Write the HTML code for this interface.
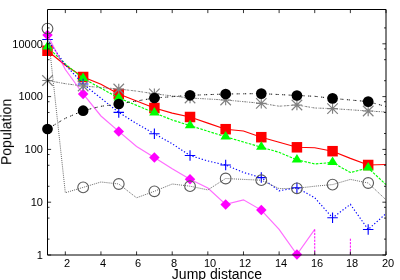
<!DOCTYPE html>
<html><head><meta charset="utf-8"><title>chart</title>
<style>
html,body{margin:0;padding:0;background:#fff;}
div{will-change:transform;}
body{width:400px;height:280px;position:relative;overflow:hidden;font-family:"Liberation Sans",sans-serif;color:#000;}
.xl{position:absolute;top:256.8px;width:30px;text-align:center;font-size:11px;line-height:12px;}
.yl{position:absolute;left:0;width:42.9px;text-align:right;font-size:11px;line-height:12px;}
.xt{position:absolute;left:116.5px;width:200px;text-align:center;top:266.1px;font-size:14px;line-height:16px;white-space:nowrap;}
.yt{position:absolute;left:0;top:0;font-size:14px;line-height:16px;white-space:nowrap;transform-origin:0 0;transform:translate(-1.75px,165px) rotate(-90deg);}
</style></head><body>
<svg width="400" height="280" viewBox="0 0 400 280" style="position:absolute;left:0;top:0">
<path d="M47.50,50.75 L65.32,65.30 L83.13,77.00 L100.95,84.30 L118.76,94.00 L136.58,101.00 L154.39,108.00 L172.21,113.10 L190.03,117.00 L207.84,123.10 L225.66,129.20 L243.47,131.00 L261.29,137.20 L279.11,142.25 L296.92,147.30 L314.74,147.80 L332.55,151.20 L350.37,158.40 L368.18,165.00 L386.00,164.50" fill="none" stroke="#ff0000" stroke-width="1.15"/>
<rect x="42.25" y="45.50" width="10.50" height="10.50" fill="#ff0000"/>
<rect x="77.88" y="71.75" width="10.50" height="10.50" fill="#ff0000"/>
<rect x="113.51" y="88.75" width="10.50" height="10.50" fill="#ff0000"/>
<rect x="149.14" y="102.75" width="10.50" height="10.50" fill="#ff0000"/>
<rect x="184.78" y="111.75" width="10.50" height="10.50" fill="#ff0000"/>
<rect x="220.41" y="123.95" width="10.50" height="10.50" fill="#ff0000"/>
<rect x="256.04" y="131.95" width="10.50" height="10.50" fill="#ff0000"/>
<rect x="291.67" y="142.05" width="10.50" height="10.50" fill="#ff0000"/>
<rect x="327.30" y="145.95" width="10.50" height="10.50" fill="#ff0000"/>
<rect x="362.93" y="159.75" width="10.50" height="10.50" fill="#ff0000"/>

<path d="M47.50,46.90 L65.32,64.00 L83.13,78.40 L100.95,88.20 L118.76,98.00 L136.58,105.40 L154.39,112.80 L172.21,120.00 L190.03,125.60 L207.84,131.20 L225.66,136.80 L243.47,142.00 L261.29,147.20 L279.11,152.30 L296.92,159.80 L314.74,163.90 L332.55,162.50 L350.37,172.50 L368.18,168.00 L386.00,184.60" fill="none" stroke="#00ff00" stroke-width="1.15" stroke-dasharray="2.6 1.3"/>
<path d="M47.50,41.02 L42.25,49.52 L52.75,49.52 Z" fill="#00ff00"/>
<path d="M83.13,72.52 L77.88,81.03 L88.38,81.03 Z" fill="#00ff00"/>
<path d="M118.76,92.12 L113.51,100.62 L124.01,100.62 Z" fill="#00ff00"/>
<path d="M154.39,106.92 L149.14,115.42 L159.64,115.42 Z" fill="#00ff00"/>
<path d="M190.03,119.72 L184.78,128.22 L195.28,128.22 Z" fill="#00ff00"/>
<path d="M225.66,130.92 L220.41,139.43 L230.91,139.43 Z" fill="#00ff00"/>
<path d="M261.29,141.32 L256.04,149.82 L266.54,149.82 Z" fill="#00ff00"/>
<path d="M296.92,153.92 L291.67,162.43 L302.17,162.43 Z" fill="#00ff00"/>
<path d="M332.55,156.62 L327.30,165.12 L337.80,165.12 Z" fill="#00ff00"/>
<path d="M368.18,162.12 L362.93,170.62 L373.43,170.62 Z" fill="#00ff00"/>

<path d="M47.50,39.50 L65.32,64.80 L83.13,84.00 L100.95,98.20 L118.76,112.40 L136.58,123.60 L154.39,133.70 L172.21,143.80 L190.03,155.50 L207.84,161.00 L225.66,165.00 L243.47,172.50 L261.29,177.60 L279.11,190.80 L296.92,187.70 L314.74,197.80 L332.55,217.80 L350.37,204.40 L368.18,229.45 L386.00,213.60" fill="none" stroke="#0000ff" stroke-width="1.15" stroke-dasharray="1.3 1.95"/>
<path d="M42.25,39.50 H52.75 M47.50,34.25 V44.75" stroke="#0000ff" stroke-width="1.1" fill="none"/>
<path d="M77.88,84.00 H88.38 M83.13,78.75 V89.25" stroke="#0000ff" stroke-width="1.1" fill="none"/>
<path d="M113.51,112.40 H124.01 M118.76,107.15 V117.65" stroke="#0000ff" stroke-width="1.1" fill="none"/>
<path d="M149.14,133.70 H159.64 M154.39,128.45 V138.95" stroke="#0000ff" stroke-width="1.1" fill="none"/>
<path d="M184.78,155.50 H195.28 M190.03,150.25 V160.75" stroke="#0000ff" stroke-width="1.1" fill="none"/>
<path d="M220.41,165.00 H230.91 M225.66,159.75 V170.25" stroke="#0000ff" stroke-width="1.1" fill="none"/>
<path d="M256.04,177.60 H266.54 M261.29,172.35 V182.85" stroke="#0000ff" stroke-width="1.1" fill="none"/>
<path d="M291.67,187.70 H302.17 M296.92,182.45 V192.95" stroke="#0000ff" stroke-width="1.1" fill="none"/>
<path d="M327.30,217.80 H337.80 M332.55,212.55 V223.05" stroke="#0000ff" stroke-width="1.1" fill="none"/>
<path d="M362.93,229.45 H373.43 M368.18,224.20 V234.70" stroke="#0000ff" stroke-width="1.1" fill="none"/>

<path d="M47.50,35.00 L65.32,69.50 L83.13,94.00 L100.95,116.00 L118.76,131.40 L136.58,146.40 L154.39,157.50 L172.21,168.75 L190.03,179.25 L207.84,188.00 L225.66,204.40 L243.47,199.80 L261.29,210.10 L279.11,229.45 L296.92,254.50 L314.74,229.45" fill="none" stroke="#ff00ff" stroke-width="1.2" stroke-opacity="0.58"/>
<path d="M314.74,229.45 V255.0 M350.37,238.7 V255.0" stroke="#ff00ff" stroke-width="1" stroke-dasharray="2.2 1.2" fill="none"/>
<path d="M47.50,29.75 L52.75,35.00 L47.50,40.25 L42.25,35.00 Z" fill="#ff00ff"/>
<path d="M83.13,88.75 L88.38,94.00 L83.13,99.25 L77.88,94.00 Z" fill="#ff00ff"/>
<path d="M118.76,126.15 L124.01,131.40 L118.76,136.65 L113.51,131.40 Z" fill="#ff00ff"/>
<path d="M154.39,152.25 L159.64,157.50 L154.39,162.75 L149.14,157.50 Z" fill="#ff00ff"/>
<path d="M190.03,174.00 L195.28,179.25 L190.03,184.50 L184.78,179.25 Z" fill="#ff00ff"/>
<path d="M225.66,199.15 L230.91,204.40 L225.66,209.65 L220.41,204.40 Z" fill="#ff00ff"/>
<path d="M261.29,204.85 L266.54,210.10 L261.29,215.35 L256.04,210.10 Z" fill="#ff00ff"/>
<path d="M296.92,249.25 L302.17,254.50 L296.92,259.75 L291.67,254.50 Z" fill="#ff00ff"/>

<path d="M47.50,80.50 L65.32,83.70 L83.13,86.00 L100.95,87.50 L118.76,89.00 L136.58,91.10 L154.39,93.80 L172.21,95.90 L190.03,98.00 L207.84,99.00 L225.66,100.00 L243.47,101.65 L261.29,103.30 L279.11,106.20 L296.92,105.00 L314.74,108.00 L332.55,108.60 L350.37,109.80 L368.18,111.00 L386.00,112.00" fill="none" stroke="#555555" stroke-width="1.0" stroke-dasharray="0.8 0.7 0.8 0.7 0.8 0.7 0.8 1.7"/>
<path d="M42.25,80.50 H52.75 M47.50,75.25 V85.75 M42.25,75.25 L52.75,85.75 M42.25,85.75 L52.75,75.25" stroke="#808080" stroke-width="1.15" fill="none"/>
<path d="M77.88,86.00 H88.38 M83.13,80.75 V91.25 M77.88,80.75 L88.38,91.25 M77.88,91.25 L88.38,80.75" stroke="#808080" stroke-width="1.15" fill="none"/>
<path d="M113.51,89.00 H124.01 M118.76,83.75 V94.25 M113.51,83.75 L124.01,94.25 M113.51,94.25 L124.01,83.75" stroke="#808080" stroke-width="1.15" fill="none"/>
<path d="M149.14,93.80 H159.64 M154.39,88.55 V99.05 M149.14,88.55 L159.64,99.05 M149.14,99.05 L159.64,88.55" stroke="#808080" stroke-width="1.15" fill="none"/>
<path d="M184.78,98.00 H195.28 M190.03,92.75 V103.25 M184.78,92.75 L195.28,103.25 M184.78,103.25 L195.28,92.75" stroke="#808080" stroke-width="1.15" fill="none"/>
<path d="M220.41,100.00 H230.91 M225.66,94.75 V105.25 M220.41,94.75 L230.91,105.25 M220.41,105.25 L230.91,94.75" stroke="#808080" stroke-width="1.15" fill="none"/>
<path d="M256.04,103.30 H266.54 M261.29,98.05 V108.55 M256.04,98.05 L266.54,108.55 M256.04,108.55 L266.54,98.05" stroke="#808080" stroke-width="1.15" fill="none"/>
<path d="M291.67,105.00 H302.17 M296.92,99.75 V110.25 M291.67,99.75 L302.17,110.25 M291.67,110.25 L302.17,99.75" stroke="#808080" stroke-width="1.15" fill="none"/>
<path d="M327.30,108.60 H337.80 M332.55,103.35 V113.85 M327.30,103.35 L337.80,113.85 M327.30,113.85 L337.80,103.35" stroke="#808080" stroke-width="1.15" fill="none"/>
<path d="M362.93,111.00 H373.43 M368.18,105.75 V116.25 M362.93,105.75 L373.43,116.25 M362.93,116.25 L373.43,105.75" stroke="#808080" stroke-width="1.15" fill="none"/>

<path d="M47.50,129.00 L65.32,118.30 L83.13,110.70 L100.95,106.30 L118.76,104.00 L136.58,101.00 L154.39,98.00 L172.21,96.65 L190.03,95.30 L207.84,94.65 L225.66,94.00 L243.47,93.80 L261.29,93.60 L279.11,94.55 L296.92,95.50 L314.74,96.30 L332.55,98.40 L350.37,100.00 L368.18,101.60 L386.00,106.50" fill="none" stroke="#000000" stroke-width="0.95" stroke-dasharray="1.2 0.6 1.2 3.5"/>
<circle cx="47.50" cy="129.00" r="5.35" fill="#000000"/>
<circle cx="83.13" cy="110.70" r="5.35" fill="#000000"/>
<circle cx="118.76" cy="104.00" r="5.35" fill="#000000"/>
<circle cx="154.39" cy="98.00" r="5.35" fill="#000000"/>
<circle cx="190.03" cy="95.30" r="5.35" fill="#000000"/>
<circle cx="225.66" cy="94.00" r="5.35" fill="#000000"/>
<circle cx="261.29" cy="93.60" r="5.35" fill="#000000"/>
<circle cx="296.92" cy="95.50" r="5.35" fill="#000000"/>
<circle cx="332.55" cy="98.40" r="5.35" fill="#000000"/>
<circle cx="368.18" cy="101.60" r="5.35" fill="#000000"/>

<path d="M47.50,28.60 L65.32,192.75 L83.13,187.40 L100.95,182.00 L118.76,184.00 L136.58,197.80 L154.39,191.30 L172.21,184.00 L190.03,186.20 L207.84,189.90 L225.66,178.50 L243.47,179.40 L261.29,180.20 L279.11,188.60 L296.92,188.30 L314.74,186.20 L332.55,184.60 L350.37,179.40 L368.18,183.00 L386.00,199.80" fill="none" stroke="#555555" stroke-width="0.9" stroke-dasharray="1.0 1.1"/>
<circle cx="47.50" cy="28.60" r="5.35" fill="none" stroke="#5a5a5a" stroke-width="1.1"/>
<circle cx="83.13" cy="187.40" r="5.35" fill="none" stroke="#5a5a5a" stroke-width="1.1"/>
<circle cx="118.76" cy="184.00" r="5.35" fill="none" stroke="#5a5a5a" stroke-width="1.1"/>
<circle cx="154.39" cy="191.30" r="5.35" fill="none" stroke="#5a5a5a" stroke-width="1.1"/>
<circle cx="190.03" cy="186.20" r="5.35" fill="none" stroke="#5a5a5a" stroke-width="1.1"/>
<circle cx="225.66" cy="178.50" r="5.35" fill="none" stroke="#5a5a5a" stroke-width="1.1"/>
<circle cx="261.29" cy="180.20" r="5.35" fill="none" stroke="#5a5a5a" stroke-width="1.1"/>
<circle cx="296.92" cy="188.30" r="5.35" fill="none" stroke="#5a5a5a" stroke-width="1.1"/>
<circle cx="332.55" cy="184.60" r="5.35" fill="none" stroke="#5a5a5a" stroke-width="1.1"/>
<circle cx="368.18" cy="183.00" r="5.35" fill="none" stroke="#5a5a5a" stroke-width="1.1"/>

<path d="M47.5,9.5 H386.0 V255.0 H47.5 Z" fill="none" stroke="#000" stroke-width="1"/>
<path d="M65.32,255.0 v-3.6 M65.32,9.5 v3.6 M100.95,255.0 v-3.6 M100.95,9.5 v3.6 M136.58,255.0 v-3.6 M136.58,9.5 v3.6 M172.21,255.0 v-3.6 M172.21,9.5 v3.6 M207.84,255.0 v-3.6 M207.84,9.5 v3.6 M243.47,255.0 v-3.6 M243.47,9.5 v3.6 M279.11,255.0 v-3.6 M279.11,9.5 v3.6 M314.74,255.0 v-3.6 M314.74,9.5 v3.6 M350.37,255.0 v-3.6 M350.37,9.5 v3.6 M386.00,255.0 v-3.6 M386.00,9.5 v3.6 M47.5,255.00 h3.6 M386.0,255.00 h-3.6 M47.5,239.11 h2.0 M386.0,239.11 h-2.0 M47.5,218.09 h2.0 M386.0,218.09 h-2.0 M47.5,207.32 h2.0 M386.0,207.32 h-2.0 M47.5,202.20 h3.6 M386.0,202.20 h-3.6 M47.5,186.31 h2.0 M386.0,186.31 h-2.0 M47.5,165.29 h2.0 M386.0,165.29 h-2.0 M47.5,154.52 h2.0 M386.0,154.52 h-2.0 M47.5,149.40 h3.6 M386.0,149.40 h-3.6 M47.5,133.51 h2.0 M386.0,133.51 h-2.0 M47.5,112.49 h2.0 M386.0,112.49 h-2.0 M47.5,101.72 h2.0 M386.0,101.72 h-2.0 M47.5,96.60 h3.6 M386.0,96.60 h-3.6 M47.5,80.71 h2.0 M386.0,80.71 h-2.0 M47.5,59.69 h2.0 M386.0,59.69 h-2.0 M47.5,48.92 h2.0 M386.0,48.92 h-2.0 M47.5,43.80 h3.6 M386.0,43.80 h-3.6 M47.5,27.91 h2.0 M386.0,27.91 h-2.0" stroke="#000" stroke-width="0.8" fill="none"/>
</svg>
<div class="xl" style="left:52.22px">2</div>
<div class="xl" style="left:87.85px">4</div>
<div class="xl" style="left:123.48px">6</div>
<div class="xl" style="left:159.11px">8</div>
<div class="xl" style="left:194.74px">10</div>
<div class="xl" style="left:230.37px">12</div>
<div class="xl" style="left:266.01px">14</div>
<div class="xl" style="left:301.64px">16</div>
<div class="xl" style="left:337.27px">18</div>
<div class="xl" style="left:372.90px">20</div>
<div class="yl" style="top:248.80px">1</div>
<div class="yl" style="top:196.00px">10</div>
<div class="yl" style="top:143.20px">100</div>
<div class="yl" style="top:90.40px">1000</div>
<div class="yl" style="top:37.60px">10000</div>
<div class="xt">Jump distance</div>
<div class="yt">Population</div>
</body></html>
